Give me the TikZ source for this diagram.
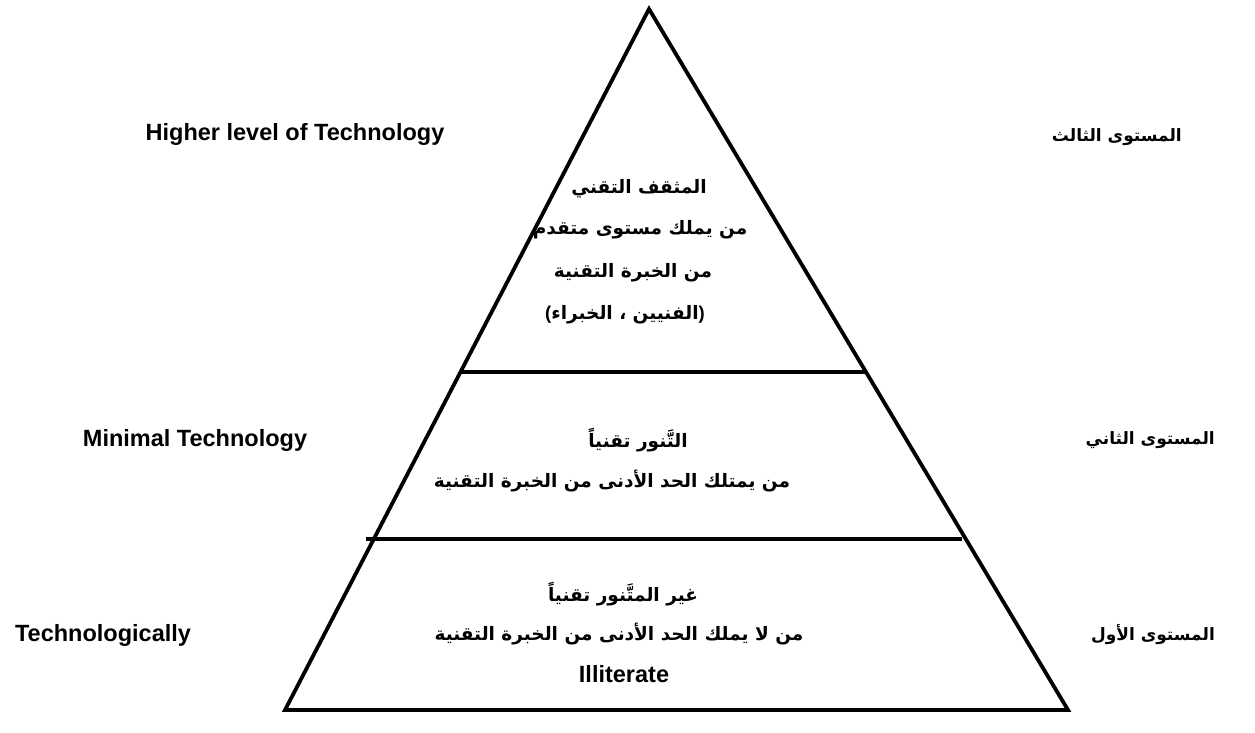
\documentclass[tikz,border=0pt]{standalone}
\usepackage{fontspec}
\setmainfont{Liberation Sans}
\newfontfamily\arabicfont[Script=Arabic]{DejaVu Sans}
\TeXXeTstate=1
\begin{document}
\begin{tikzpicture}[x=1pt,y=-1pt,
  edge/.style={line width=3.8pt,line join=miter},
  latin/.style={font=\fontsize{23.5}{26}\selectfont\bfseries,inner sep=0pt},
  arab/.style={font=\arabicfont\fontsize{18.5}{22}\selectfont\bfseries,inner sep=0pt},
  side/.style={font=\arabicfont\fontsize{17}{20}\selectfont\bfseries,inner sep=0pt,anchor=east}]
\useasboundingbox (0,0) rectangle (1255,733);
% outline of the pyramid
\coordinate (apex) at (649,9);
\coordinate (bl) at (285,710);
\coordinate (br) at (1068,710);
\draw[edge] (bl) -- (apex) -- (br) -- cycle;
% dividing bars between the three levels
\coordinate (d1l) at (460.5,372);
\coordinate (d1r) at (866,372);
\coordinate (d2l) at (366,539);
\coordinate (d2r) at (962,539);
\draw[edge] (d1l) -- (d1r);
\draw[edge] (d2l) -- (d2r);
% English labels on the left
\node[latin] (enTop) at (295,134) {Higher level of Technology};
\node[latin] (enMid) at (195,440) {Minimal Technology};
\node[latin] (enLow) at (103,635) {Technologically};
% level names on the right
\node[side] (arTop) at (1182,137) {\beginR المستوى الثالث\endR};
\node[side] (arMid) at (1215,440) {\beginR المستوى الثاني\endR};
\node[side] (arLow) at (1215,635) {\beginR المستوى الأول\endR};
% top level
\node[arab] (t1) at (639,189) {\beginR المثقف التقني\endR};
\node[arab] (t2) at (640,230) {\beginR من يملك مستوى متقدم\endR};
\node[arab] (t3) at (633,273) {\beginR من الخبرة التقنية\endR};
\node[arab] (t4) at (625,315) {{\rmfamily(}\beginR الفنيين ، الخبراء\endR{\rmfamily)}};
% middle level
\node[arab] (m1) at (638,440) {\beginR التَّنور تقنياً\endR};
\node[arab] (m2) at (612,481) {\beginR من يمتلك الحد الأدنى من الخبرة التقنية\endR};
% bottom level
\node[arab] (b1) at (623,594) {\beginR غير المتَّنور تقنياً\endR};
\node[arab] (b2) at (619,634) {\beginR من لا يملك الحد الأدنى من الخبرة التقنية\endR};
\node[latin] (b3) at (624,674) {Illiterate};
\end{tikzpicture}
\end{document}
